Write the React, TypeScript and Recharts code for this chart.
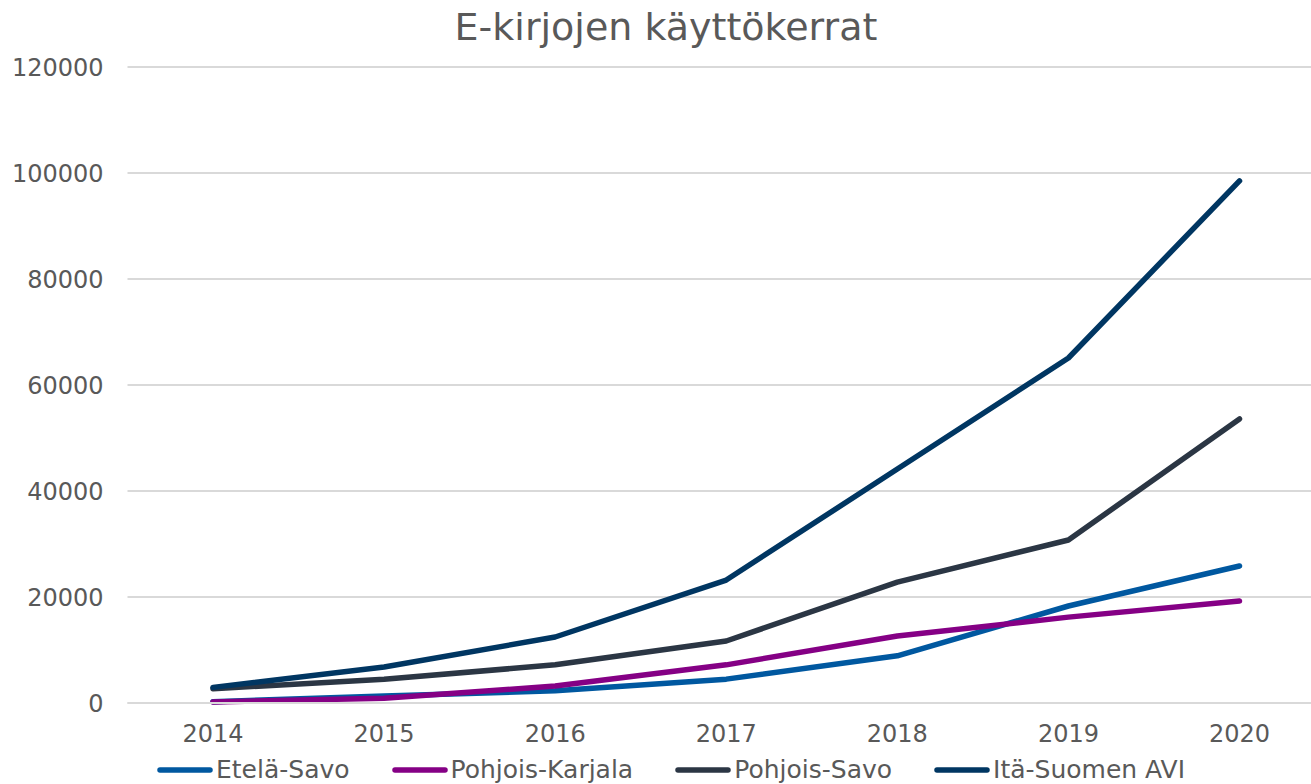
import React from "react";
import { LineChart, Line, XAxis, YAxis, CartesianGrid } from "recharts";

const years = ["2014", "2015", "2016", "2017", "2018", "2019", "2020"];
const etelaSavo = [250, 1300, 2300, 4500, 8900, 18300, 25850];
const pohjoisKarjala = [200, 900, 3200, 7200, 12650, 16200, 19250];
const pohjoisSavo = [2700, 4500, 7200, 11700, 22800, 30750, 53600];
const itaSuomenAvi = [2950, 6800, 12450, 23200, 44150, 65100, 98500];
const yTicks = [0, 20000, 40000, 60000, 80000, 100000, 120000];

const series = [
  { key: "etela", name: "Etelä-Savo", color: "#0058A0", values: etelaSavo },
  { key: "karjala", name: "Pohjois-Karjala", color: "#850085", values: pohjoisKarjala },
  { key: "savo", name: "Pohjois-Savo", color: "#2B3644", values: pohjoisSavo },
  { key: "avi", name: "Itä-Suomen AVI", color: "#003662", values: itaSuomenAvi },
];

const data = years.map((y, i) => {
  const row: any = { year: y };
  series.forEach((s) => (row[s.key] = s.values[i]));
  return row;
});

const FONT = "'DejaVu Sans', Verdana, sans-serif";
const TEXT = "#595959";

const LegendBox = () => (
  <div
    style={{
      position: "absolute",
      left: 157,
      top: 755,
      display: "flex",
      alignItems: "center",
      fontFamily: FONT,
      fontSize: 25,
      lineHeight: "30px",
      color: TEXT,
      whiteSpace: "nowrap",
    }}
  >
    {series.map((s) => (
      <div key={s.key} style={{ display: "flex", alignItems: "center", marginRight: 42 }}>
        <svg width={56} height={10} style={{ marginRight: 3 }}>
          <line x1={3} y1={5} x2={53} y2={5} stroke={s.color} strokeWidth={5.5} strokeLinecap="round" />
        </svg>
        <span>{s.name}</span>
      </div>
    ))}
  </div>
);

export default function App() {
  return (
    <div style={{ position: "absolute", left: 0, top: 0, width: 1311, height: 784, overflow: "hidden", background: "#fff" }}>
      <div
        style={{
          position: "absolute",
          left: 0,
          width: 1332,
          top: 4,
          textAlign: "center",
          fontFamily: FONT,
          fontSize: 38,
          color: TEXT,
          lineHeight: "46px",
        }}
      >
        E-kirjojen käyttökerrat
      </div>
      <div style={{ position: "absolute", left: 0, top: 0 }}>
        <LineChart width={1325} height={784} data={data} margin={{ top: 67, right: 0, bottom: 51, left: 0 }}>
          <CartesianGrid vertical={false} stroke="#d9d9d9" strokeWidth={2} />
          <XAxis
            dataKey="year"
            padding={{ left: 85.5, right: 85.5 }}
            axisLine={{ stroke: "#d9d9d9", strokeWidth: 2 }}
            tickLine={false}
            tickSize={0}
            tickMargin={22}
            tick={{ fill: TEXT, fontSize: 24, fontFamily: FONT }}
            interval={0}
          />
          <YAxis
            width={127.5}
            domain={[0, 120000]}
            ticks={yTicks}
            axisLine={false}
            tickLine={false}
            tickSize={0}
            tickMargin={24}
            tick={{ fill: TEXT, fontSize: 24, fontFamily: FONT }}
          />
          {series.map((s) => (
            <Line
              key={s.key}
              dataKey={s.key}
              name={s.name}
              stroke={s.color}
              strokeWidth={5.5}
              strokeLinecap="round"
              strokeLinejoin="round"
              dot={false}
              activeDot={false}
              isAnimationActive={false}
            />
          ))}
        </LineChart>
      </div>
      <LegendBox />
    </div>
  );
}
